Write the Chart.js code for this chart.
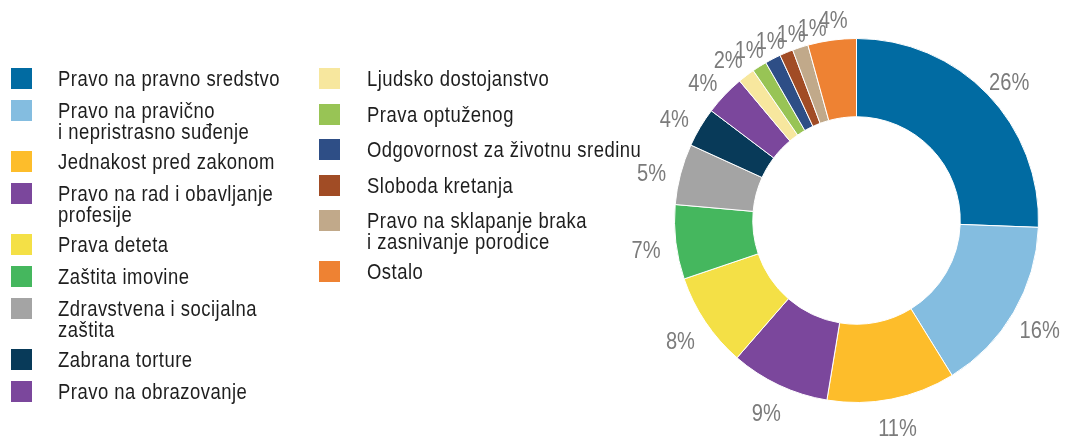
<!DOCTYPE html>
<html><head><meta charset="utf-8">
<script src="https://cdn.jsdelivr.net/npm/chart.js@4"></script>
<style>
html,body{margin:0;padding:0;background:#fff;}
#wrap{position:relative;width:1066px;height:437px;overflow:hidden;}
#c{position:absolute;left:0;top:0;}
.leg{position:absolute;left:0;top:0;font-family:"Liberation Sans",Arial,sans-serif;font-size:22.5px;letter-spacing:0.6px;color:#1e1e1e;}
.sw{position:absolute;width:21px;height:21px;}
.tx{position:absolute;white-space:pre;line-height:21px;transform:scaleX(0.82);transform-origin:0 0;}
</style></head>
<body><div id="wrap"><canvas id="c" width="1066" height="437" style="width:1066px;height:437px"></canvas><div id="legend" class="leg"></div></div>
<script>
const categories = [
  "Pravo na pravno sredstvo",
  "Pravo na pravično\ni nepristrasno suđenje",
  "Jednakost pred zakonom",
  "Pravo na rad i obavljanje\nprofesije",
  "Prava deteta",
  "Zaštita imovine",
  "Zdravstvena i socijalna\nzaštita",
  "Zabrana torture",
  "Pravo na obrazovanje",
  "Ljudsko dostojanstvo",
  "Prava optuženog",
  "Odgovornost za životnu sredinu",
  "Sloboda kretanja",
  "Pravo na sklapanje braka\ni zasnivanje porodice",
  "Ostalo"
];
const values = [25.6, 15.6, 11.4, 8.8, 8.4, 6.6, 5.4, 3.5, 3.6, 1.5, 1.3, 1.4, 1.2, 1.4, 4.3];
const colors = ["#016ba2","#84bde0","#fdbd2b","#7b479c","#f4e046","#45b75e","#a4a4a4","#083a59",
                "#7b479c","#f7e79e","#98c455","#2e4e86","#a14c25","#c1a98a","#ee8233"];
const legendColumns = [9, 6];

// ---- HTML legend built from the arrays ----
(function buildLegend(){
  const cols = [
    {swX: 11, txX: 58, y0: 78, pitch: 32, extra: 19},
    {swX: 319, txX: 367, y0: 78.7, pitch: 35.5, extra: 15.5}
  ];
  const host = document.getElementById('legend');
  let idx = 0;
  legendColumns.forEach((n, ci) => {
    const c = cols[ci];
    let y = c.y0;
    for (let k = 0; k < n; k++, idx++) {
      const lines = categories[idx].split('\n');
      const sw = document.createElement('div');
      sw.className = 'sw';
      sw.style.left = c.swX + 'px';
      sw.style.top = (y - 10.5) + 'px';
      sw.style.background = colors[idx];
      host.appendChild(sw);
      const tx = document.createElement('div');
      tx.className = 'tx';
      tx.style.left = c.txX + 'px';
      tx.style.top = (y - 10.3) + 'px';
      tx.textContent = lines.join('\n');
      host.appendChild(tx);
      y += c.pitch + c.extra * (lines.length - 1);
    }
  });
})();

// ---- outside percentage labels ----
const outsideLabels = {
  id: 'outsideLabels',
  afterDatasetsDraw(chart) {
    const meta = chart.getDatasetMeta(0);
    const ctx = chart.ctx;
    const pts = meta.data.map((arc, i) => {
      const p = arc.getProps(['x','y','startAngle','endAngle'], true);
      const a = (p.startAngle + p.endAngle) / 2 + Math.PI / 2;
      return {
        i, a,
        x: p.x + 212 * Math.sin(a),
        y: p.y - 207 * Math.cos(a) + 6,
        text: Math.round(values[i]) + '%'
      };
    });
    // avoid crowding in the upper-left quarter
    const ul = pts.filter(p => p.a > 1.5 * Math.PI && p.a < 2 * Math.PI).sort((a, b) => a.a - b.a);
    for (let k = 1; k < ul.length; k++) {
      ul[k].x = Math.max(ul[k].x, ul[k - 1].x + 21);
    }
    ctx.save();
    ctx.font = '24.5px "Liberation Sans", Arial, sans-serif';
    ctx.fillStyle = '#7b7b7b';
    ctx.textAlign = 'center';
    ctx.textBaseline = 'middle';
    pts.forEach(p => {
      ctx.save();
      ctx.translate(p.x, p.y);
      ctx.scale(0.82, 1);
      ctx.fillText(p.text, 0, 0);
      ctx.restore();
    });
    ctx.restore();
  }
};

new Chart(document.getElementById('c'), {
  type: 'doughnut',
  data: {
    labels: categories.map(s => s.replace('\n', ' ')),
    datasets: [{
      data: values,
      backgroundColor: colors,
      borderColor: '#ffffff',
      borderWidth: 1
    }]
  },
  options: {
    responsive: false,
    animation: false,
    cutout: '57%',
    layout: { padding: { left: 674, right: 27, top: 38, bottom: 34 } },
    plugins: { legend: { display: false }, tooltip: { enabled: false } }
  },
  plugins: [outsideLabels]
});
</script>
</body></html>
